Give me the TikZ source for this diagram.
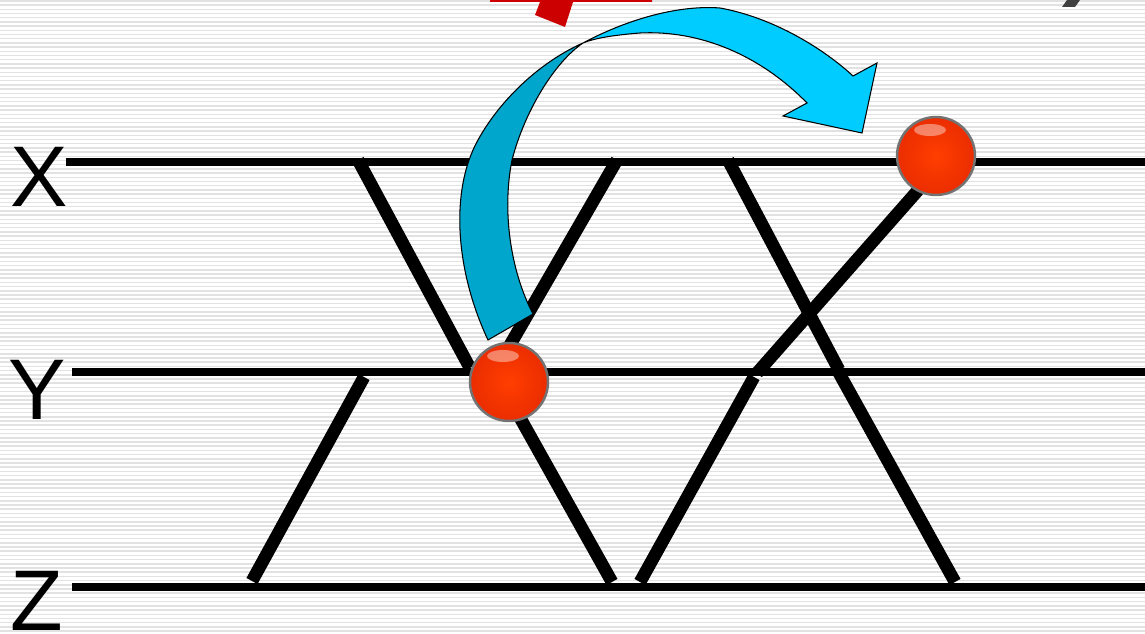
\documentclass[tikz,border=0pt]{standalone}
\usepackage{fontspec}
\setmainfont{Liberation Sans}
\definecolor{arrowlight}{RGB}{0,204,255}
\definecolor{arrowdark}{RGB}{0,166,204}
\definecolor{ballred}{RGB}{255,62,0}
\definecolor{balldark}{RGB}{235,45,0}
\definecolor{stripe}{RGB}{226,226,226}
\definecolor{markred}{RGB}{204,0,0}
\definecolor{markgray}{RGB}{64,64,64}
\begin{document}
\begin{tikzpicture}[x=0.02cm,y=-0.02cm,
  track/.style={line width=4.3pt},
  link/.style={line width=7.2pt},
  lbl/.style={font=\fontsize{49}{49}\selectfont, inner sep=0pt},
  ball/.style={circle, minimum size=1.56cm, inner sep=0pt, shade, inner color=ballred, outer color=balldark, draw=gray!90!black, line width=1.4pt}]
\fill[white] (0,0) rectangle (1145,634);
\useasboundingbox (0,0) rectangle (1145,634);
% striped background
\foreach \k in {0,...,150}{
    \draw[stripe, line width=0.8pt] (0,\k*4.2+1) -- (1145,\k*4.2+1);
}
\fill[markred] (490,0) -- (652,0) -- (652,2) -- (573,2) -- (565,27) -- (535,15) -- (540,2) -- (490,2) -- cycle;
\fill[markgray] (1067,0) -- (1080,0) -- (1075,7) -- (1062,7) -- cycle;

\node[lbl] (labX) at (39,177) {X};
\node[lbl] (labY) at (37,390) {Y};
\node[lbl] (labZ) at (37,601) {Z};
\coordinate (xl) at (66,162);  \coordinate (xr) at (1145,162);
\coordinate (yl) at (72,372);  \coordinate (yr) at (1145,372);
\coordinate (zl) at (72,587);  \coordinate (zr) at (1145,587);
\draw[track] (xl) -- (xr);
\draw[track] (yl) -- (yr);
\draw[track] (zl) -- (zr);

\coordinate (a1) at (358,160); \coordinate (a2) at (470,368);
\coordinate (b1) at (617,160); \coordinate (b2) at (510,345);
\coordinate (c1) at (728,160); \coordinate (c2) at (839,370);
\coordinate (d1) at (920,188); \coordinate (d2) at (757,373);
\coordinate (e1) at (364,377); \coordinate (e2) at (252,581);
\coordinate (f1) at (500,382); \coordinate (f2) at (612,582);
\coordinate (g1) at (754,377); \coordinate (g2) at (640,582);
\coordinate (h1) at (839,373); \coordinate (h2) at (955,582);
\foreach \p in {a,b,c,d,e,f,g,h}{
    \draw[link] (\p1) -- (\p2);
}

\fill[arrowdark, draw=black, line width=0.6pt] (488,340) .. controls (455,270) and (450,190) .. (478,140)
  .. controls (500,100) and (540,62) .. (583,43)
  .. controls (555,62) and (525,110) .. (512,160)
  .. controls (502,210) and (510,270) .. (533,314) -- cycle;
\fill[arrowlight, draw=black, line width=0.6pt] (583,43) .. controls (630,18) and (680,5) .. (720,8)
  .. controls (775,18) and (825,50) .. (853,76)
  -- (877,63) -- (862,133) -- (783,116) -- (807,103)
  .. controls (760,55) and (700,30) .. (640,33)
  .. controls (615,35) and (595,38) .. (583,43) -- cycle;

\node[ball] (ballY) at (509,382) {};
\node[ball] (ballX) at (936,156) {};
\foreach \b in {ballY,ballX}{
    \fill[white, opacity=0.4] ([shift={(-6,-26)}]\b.center) ellipse [x radius=16, y radius=6];
}
\end{tikzpicture}
\end{document}
